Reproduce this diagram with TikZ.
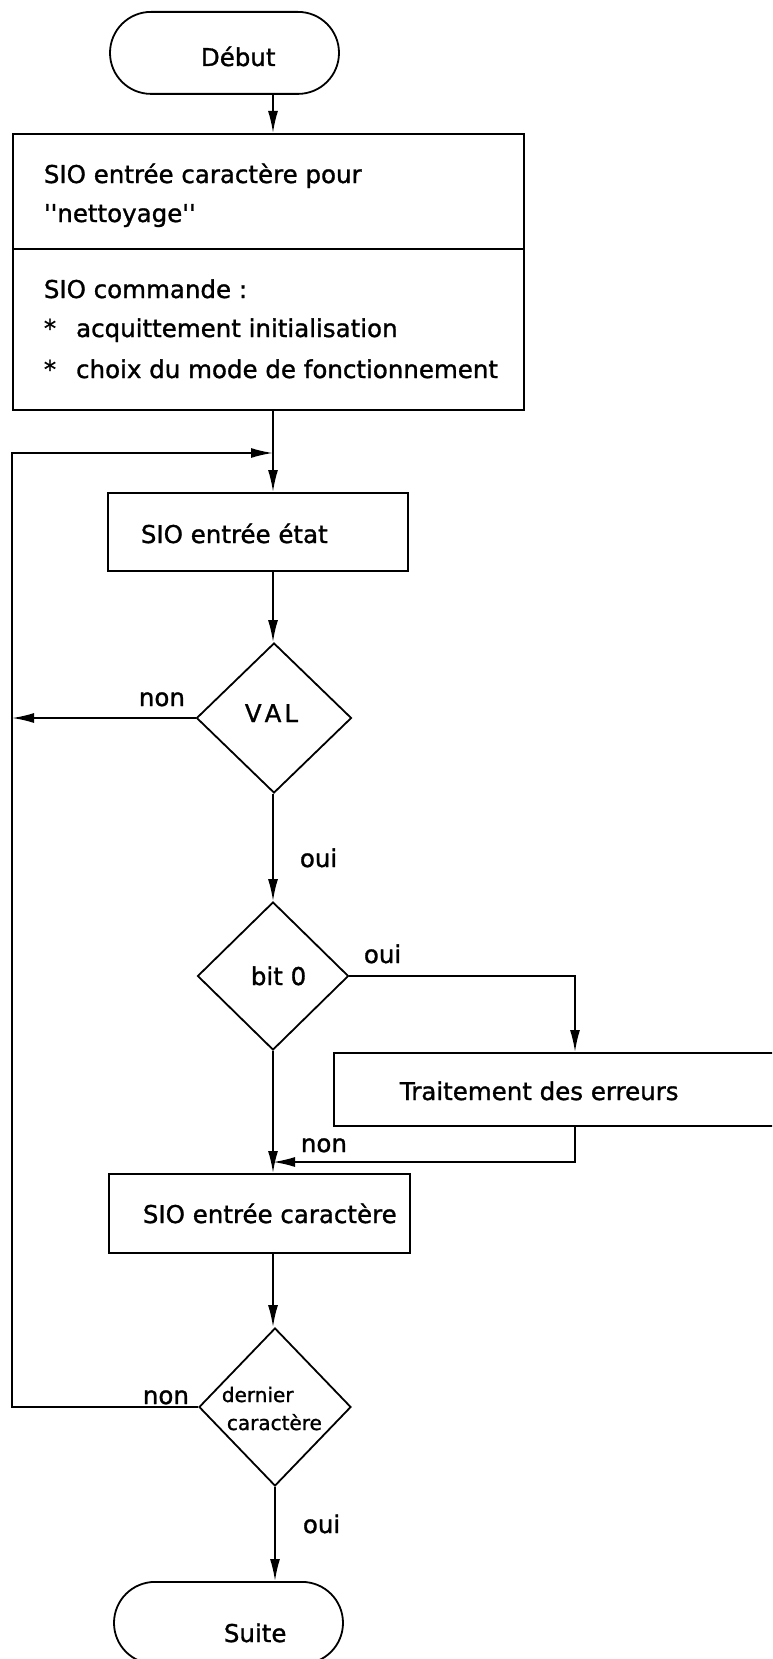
\documentclass[tikz,border=0pt]{standalone}
\usepackage{fontspec}
\setmainfont{DejaVu Sans}
\newfontfamily\diafont{DejaVu Sans}[FakeBold=1.2]
\usetikzlibrary{arrows.meta,shapes.geometric,shapes.misc}
\begin{document}
\begin{tikzpicture}[x=1pt,y=-1pt,
  line width=1.8pt,
  txt/.style={inner sep=0pt, anchor=base west, font=\diafont\fontsize{24.5}{30}\selectfont},
  smalltxt/.style={inner sep=0pt, anchor=base west, font=\diafont\fontsize{20}{24}\selectfont},
  proc/.style={draw, rectangle, line width=1.8pt, inner sep=0pt, anchor=north west},
  stadium/.style={draw, rounded rectangle, line width=1.8pt, inner sep=0pt, anchor=north west},
  decision/.style={draw, diamond, line width=1.8pt, inner sep=0pt},
  arr/.style={-{Latex[length=22pt,width=10pt]}, line width=1.8pt}]
\fill[white] (0,0) rectangle (772,1659);
\useasboundingbox (0,0) rectangle (772,1659);
\clip (0,0) rectangle (772,1659);

\coordinate (fx) at (273,0);
\coordinate (tx) at (575,0);
\coordinate (loopL) at (12,0);
\coordinate (j1) at (273,453);
\coordinate (j2) at (273,1162);

% shapes
\node[stadium, minimum width=229pt, minimum height=82pt] (debut) at (151,11) {};
\node[proc, minimum width=511pt, minimum height=276pt] (big) at (12,133) {};
\coordinate (div) at (0,249);
\node[proc, minimum width=300pt, minimum height=78pt] (etat) at (107,492) {};
\node[decision, minimum width=155pt, minimum height=150pt] (val) at (274,718) {};
\node[decision, minimum width=151pt, minimum height=148pt] (bit) at (273,976) {};
\node[proc, minimum width=460pt, minimum height=73pt] (trait) at (333,1052) {};
\node[proc, minimum width=301pt, minimum height=79pt] (car) at (108,1173) {};
\node[decision, minimum width=152pt, minimum height=158pt] (der) at (275,1407) {};
\node[stadium, minimum width=229pt, minimum height=82pt] (suite) at (155,1581) {};

\draw (big.west |- div) -- (big.east |- div);

% texts
\node[txt] (tdebut) at (200,66) {Début};
\node[txt] (tb1) at (43,183) {SIO entrée caractère pour};
\node[txt] (tb2) at (43,222) {''nettoyage''};
\node[txt] (tb3) at (43,298) {SIO commande :};
\node[txt] (tb4) at (43,337) {*\hspace{20pt}acquittement initialisation};
\node[txt] (tb5) at (43,378) {*\hspace{20pt}choix du mode de fonctionnement};
\node[txt] (tetat) at (140,543) {SIO entrée état};
\node[txt] (tval) at (244,722) {V\kern3pt A\kern3pt L};
\node[txt] (tbit) at (250,985) {bit 0};
\node[txt] (ttrait) at (399,1100) {Traitement des erreurs};
\node[txt] (tcar) at (142,1223) {SIO entrée caractère};
\node[smalltxt] (tder1) at (221,1402) {dernier};
\node[smalltxt] (tder2) at (226,1430) {caractère};
\node[txt] (tsuite) at (223,1642) {Suite};

% labels
\node[txt] (lnon1) at (138,706) {non};
\node[txt] (loui1) at (299,867) {oui};
\node[txt] (loui2) at (363,963) {oui};
\node[txt] (lnon2) at (300,1152) {non};
\node[txt] (lnon3) at (142,1404) {non};
\node[txt] (loui3) at (302,1533) {oui};

% connectors
\draw[arr] (debut.south -| fx) -- (big.north -| fx);
\draw[arr] (big.south -| fx) -- (etat.north -| fx);
\draw[arr] (etat.south -| fx) -- (val.north -| fx);
\draw[arr] (val.west) -- (val.west -| loopL);
\draw[arr] (val.south -| fx) -- (bit.north);
\draw[arr] (bit.east) -| (trait.north -| tx);
\draw[arr] (bit.south) -- (car.north -| fx);
\draw[arr] (trait.south -| tx) |- (j2);
\draw[arr] (car.south -| fx) -- (der.north -| fx);
\draw[arr] (der.west) -| (loopL |- j1) -- (j1);
\draw[arr] (der.south) -- (der.south |- suite.north);
\end{tikzpicture}
\end{document}
